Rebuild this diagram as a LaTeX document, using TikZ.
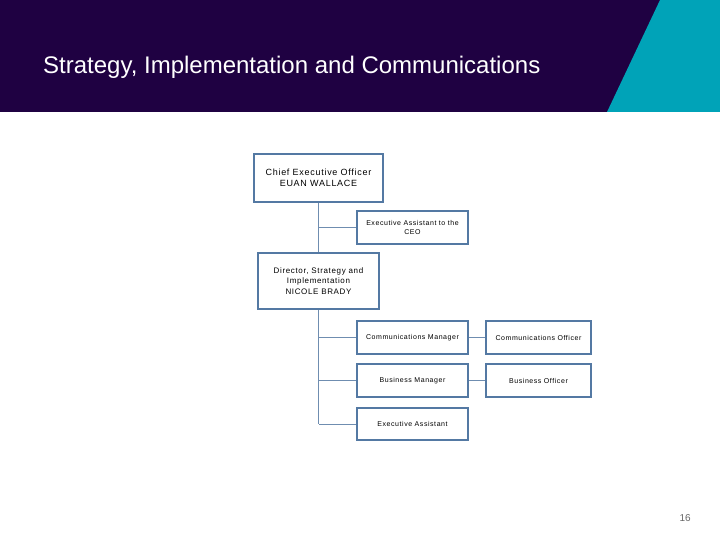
\documentclass[tikz,border=0pt]{standalone}
\usepackage{fontspec}
\setmainfont{Liberation Sans}
\newfontfamily\boxfont[LetterSpace=8]{Liberation Sans}
\definecolor{hdr}{HTML}{1F0142}
\definecolor{teal}{HTML}{00A3B8}
\definecolor{boxc}{HTML}{5479A3}
\definecolor{linec}{HTML}{6F8DB0}
\begin{document}
\begin{tikzpicture}[x=1pt,y=-1pt,
  orgbox/.style={draw=boxc,line width=1.8pt,fill=white,rectangle,align=center,inner sep=1pt,text=black},
  conn/.style={draw=linec,line width=1pt}]
\useasboundingbox (0,0) rectangle (720,540);
\fill[white] (0,0) rectangle (720,540);
\fill[hdr] (0,0) rectangle (720,112);
\fill[teal] (660,0) -- (720,0) -- (720,112) -- (607,112) -- cycle;
\node[anchor=base west,text=white,font=\fontsize{24}{28}\selectfont,inner sep=0pt] (title) at (43,74) {Strategy, Implementation and Communications};
\node[orgbox,minimum width=129pt,minimum height=48pt,font=\boxfont\fontsize{9}{11.5}\selectfont] (ceo) at (318.5,178) {Chief Executive Officer\\EUAN WALLACE};
\node[orgbox,minimum width=111pt,minimum height=33pt,font=\boxfont\fontsize{7}{9.5}\selectfont] (eaceo) at (412.5,227.5) {Executive Assistant to the\\CEO};
\node[orgbox,minimum width=121pt,minimum height=56pt,font=\boxfont\fontsize{8}{10.5}\selectfont] (dir) at (318.5,281) {Director, Strategy and\\Implementation\\NICOLE BRADY};
\node[orgbox,minimum width=111pt,minimum height=33pt,font=\boxfont\fontsize{7}{9}\selectfont] (cm) at (412.5,337.5) {Communications Manager};
\node[orgbox,minimum width=105pt,minimum height=33pt,font=\boxfont\fontsize{7}{9}\selectfont] (co) at (538.5,337.5) {Communications Officer};
\node[orgbox,minimum width=111pt,minimum height=33pt,font=\boxfont\fontsize{7}{9}\selectfont] (bm) at (412.5,380.5) {Business Manager};
\node[orgbox,minimum width=105pt,minimum height=33pt,font=\boxfont\fontsize{7}{9}\selectfont] (bo) at (538.5,380.5) {Business Officer};
\node[orgbox,minimum width=111pt,minimum height=32pt,font=\boxfont\fontsize{7}{9}\selectfont] (ea) at (412.5,424) {Executive Assistant};
\draw[conn] (ceo.south) -- (dir.north);
\draw[conn] (eaceo.west) -- (eaceo.west -| ceo.south);
\draw[conn] (dir.south) -- (ea.west -| dir.south);
\draw[conn] (cm.west) -- (cm.west -| dir.south);
\draw[conn] (bm.west) -- (bm.west -| dir.south);
\draw[conn] (ea.west) -- (ea.west -| dir.south);
\draw[conn] (cm.east) -- (co.west);
\draw[conn] (bm.east) -- (bo.west);
\node[anchor=base east,text=black!60,font=\fontsize{10}{12}\selectfont,inner sep=0pt] (pg) at (691,521) {16};
\end{tikzpicture}
\end{document}
